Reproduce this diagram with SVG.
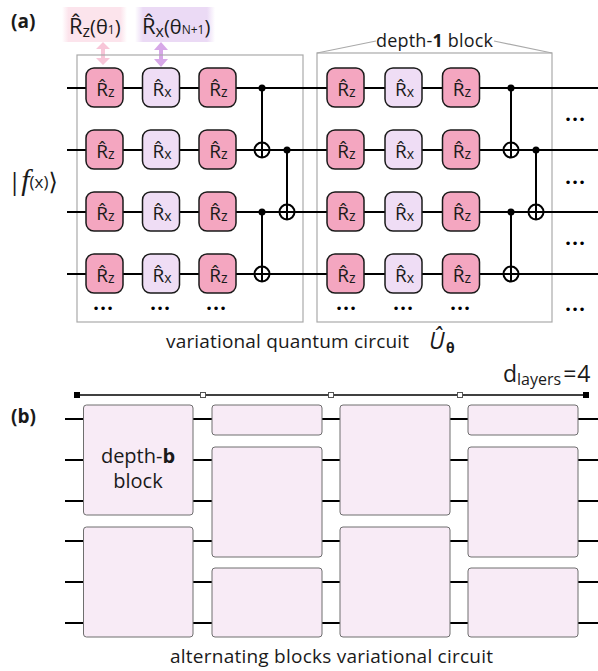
<svg xmlns="http://www.w3.org/2000/svg" width="598" height="671" viewBox="0 0 598 671">
<defs>
<style>
.t{font-family:"Open Sans","Noto Sans","DejaVu Sans",sans-serif;fill:#1a1a1a}
.wire{stroke:#000;stroke-width:2;fill:none}
.gz{fill:#F4A6C0;stroke:#1a1a1a;stroke-width:1.5}
.gx{fill:#EFDDF5;stroke:#1a1a1a;stroke-width:1.5}
.gt{font-family:"Open Sans","Noto Sans","DejaVu Sans",sans-serif;font-size:19px;fill:#1a1a1a;text-anchor:middle}
.sub{font-size:14px}
.box{fill:none;stroke:#aaaaaa;stroke-width:1.2}
.blk{fill:#F8EBF6;stroke:#6e6e6e;stroke-width:1}
.dots{font-family:"DejaVu Sans",sans-serif;font-size:12px;fill:#000;text-anchor:middle}
.ctl{fill:#000}
.tgt{fill:none;stroke:#000;stroke-width:2}
</style>
<linearGradient id="gpink" x1="0" y1="0" x2="1" y2="0">
<stop offset="0" stop-color="#FCE4EC" stop-opacity="0"/>
<stop offset="0.1" stop-color="#FCE4EC"/>
<stop offset="0.9" stop-color="#FCE4EC"/>
<stop offset="1" stop-color="#FCE4EC" stop-opacity="0"/>
</linearGradient>
<linearGradient id="gpurp" x1="0" y1="0" x2="1" y2="0">
<stop offset="0" stop-color="#EBDAF5" stop-opacity="0"/>
<stop offset="0.1" stop-color="#EBDAF5"/>
<stop offset="0.9" stop-color="#EBDAF5"/>
<stop offset="1" stop-color="#EBDAF5" stop-opacity="0"/>
</linearGradient>
</defs>
<rect width="598" height="671" fill="#fff"/>

<!-- panel labels -->
<text class="t" x="11" y="28" font-size="19" font-weight="bold">(a)</text>
<text class="t" x="11" y="423" font-size="19" font-weight="bold">(b)</text>

<!-- parameter labels -->
<g id="label-rz">
<rect x="62" y="7" width="65" height="35" fill="url(#gpink)"/>
<text class="t" x="69" y="34" font-size="22">R̂<tspan font-size="16" dy="3">z</tspan><tspan dy="-3" font-size="20">(θ</tspan><tspan font-size="12">1</tspan><tspan font-size="20">)</tspan></text>
</g>
<g id="label-rx">
<rect x="135" y="7" width="80" height="35" fill="url(#gpurp)"/>
<text class="t" x="142" y="34" font-size="22">R̂<tspan font-size="16" dy="3">x</tspan><tspan dy="-3" font-size="20">(θ</tspan><tspan font-size="12">N+1</tspan><tspan font-size="20">)</tspan></text>
</g>
<g id="arrow-rz">
<path d="M103,42 L110,49 L105,49 L105,58 L110,58 L103,65 L96,58 L101,58 L101,49 L96,49 Z" fill="#F8C6D8"/>
</g>
<g id="arrow-rx">
<path d="M161,42 L168,50 L163,50 L163,59 L168,59 L161,67 L154,59 L159,59 L159,50 L154,50 Z" fill="#D7A8E8"/>
</g>

<!-- block boxes -->
<g id="block1">
<rect class="box" x="77" y="55" width="226" height="267"/>
</g>
<g id="block2">
<rect class="box" x="317" y="53" width="235" height="269"/>
<polyline class="box" points="317,53 376,41"/>
<polyline class="box" points="494,41 552,53"/>
<text class="t" x="376" y="47" font-size="18" textLength="117">depth-<tspan font-weight="bold">1</tspan> block</text>
</g>

<!-- input label -->
<g id="input">
<text class="t" x="8" y="190" font-size="24">|<tspan font-family="Liberation Serif,serif" font-style="italic" font-size="30">f</tspan><tspan font-size="17" dy="-2">(x)</tspan><tspan dy="2">⟩</tspan></text>
</g>

<!-- connectors: wires and CNOTs -->
<g id="connectors">
<line class="wire" x1="67" y1="88" x2="598" y2="88"/>
<line class="wire" x1="67" y1="150" x2="598" y2="150"/>
<line class="wire" x1="67" y1="212" x2="598" y2="212"/>
<line class="wire" x1="67" y1="274" x2="598" y2="274"/>
<line class="wire" x1="262" y1="88" x2="262" y2="157.5"/>
<circle class="ctl" cx="262" cy="88" r="3.5"/>
<circle class="tgt" cx="262" cy="150" r="7.5"/>
<line class="wire" x1="287" y1="150" x2="287" y2="219.5"/>
<circle class="ctl" cx="287" cy="150" r="3.5"/>
<circle class="tgt" cx="287" cy="212" r="7.5"/>
<line class="wire" x1="262" y1="212" x2="262" y2="281.5"/>
<circle class="ctl" cx="262" cy="212" r="3.5"/>
<circle class="tgt" cx="262" cy="274" r="7.5"/>
<line class="wire" x1="511" y1="88" x2="511" y2="157.5"/>
<circle class="ctl" cx="511" cy="88" r="3.5"/>
<circle class="tgt" cx="511" cy="150" r="7.5"/>
<line class="wire" x1="536" y1="150" x2="536" y2="219.5"/>
<circle class="ctl" cx="536" cy="150" r="3.5"/>
<circle class="tgt" cx="536" cy="212" r="7.5"/>
<line class="wire" x1="511" y1="212" x2="511" y2="281.5"/>
<circle class="ctl" cx="511" cy="212" r="3.5"/>
<circle class="tgt" cx="511" cy="274" r="7.5"/>
</g>

<!-- gates block 1 -->
<g id="g1-r0-rz1"><rect class="gz" x="86" y="68" width="37" height="39" rx="8"/><text class="gt" x="105.5" y="96">R̂<tspan class="sub" dy="1">z</tspan></text></g>
<g id="g1-r0-rx"><rect class="gx" x="142.5" y="68" width="37" height="39" rx="8"/><text class="gt" x="162" y="96">R̂<tspan class="sub" dy="1">x</tspan></text></g>
<g id="g1-r0-rz2"><rect class="gz" x="199" y="68" width="37" height="39" rx="8"/><text class="gt" x="218.5" y="96">R̂<tspan class="sub" dy="1">z</tspan></text></g>
<g id="g1-r1-rz1"><rect class="gz" x="86" y="130" width="37" height="39" rx="8"/><text class="gt" x="105.5" y="158">R̂<tspan class="sub" dy="1">z</tspan></text></g>
<g id="g1-r1-rx"><rect class="gx" x="142.5" y="130" width="37" height="39" rx="8"/><text class="gt" x="162" y="158">R̂<tspan class="sub" dy="1">x</tspan></text></g>
<g id="g1-r1-rz2"><rect class="gz" x="199" y="130" width="37" height="39" rx="8"/><text class="gt" x="218.5" y="158">R̂<tspan class="sub" dy="1">z</tspan></text></g>
<g id="g1-r2-rz1"><rect class="gz" x="86" y="192" width="37" height="39" rx="8"/><text class="gt" x="105.5" y="220">R̂<tspan class="sub" dy="1">z</tspan></text></g>
<g id="g1-r2-rx"><rect class="gx" x="142.5" y="192" width="37" height="39" rx="8"/><text class="gt" x="162" y="220">R̂<tspan class="sub" dy="1">x</tspan></text></g>
<g id="g1-r2-rz2"><rect class="gz" x="199" y="192" width="37" height="39" rx="8"/><text class="gt" x="218.5" y="220">R̂<tspan class="sub" dy="1">z</tspan></text></g>
<g id="g1-r3-rz1"><rect class="gz" x="86" y="254" width="37" height="39" rx="8"/><text class="gt" x="105.5" y="282">R̂<tspan class="sub" dy="1">z</tspan></text></g>
<g id="g1-r3-rx"><rect class="gx" x="142.5" y="254" width="37" height="39" rx="8"/><text class="gt" x="162" y="282">R̂<tspan class="sub" dy="1">x</tspan></text></g>
<g id="g1-r3-rz2"><rect class="gz" x="199" y="254" width="37" height="39" rx="8"/><text class="gt" x="218.5" y="282">R̂<tspan class="sub" dy="1">z</tspan></text></g>

<!-- gates block 2 -->
<g id="g2-r0-rz1"><rect class="gz" x="327" y="68" width="37" height="39" rx="8"/><text class="gt" x="346.5" y="96">R̂<tspan class="sub" dy="1">z</tspan></text></g>
<g id="g2-r0-rx"><rect class="gx" x="385" y="68" width="37" height="39" rx="8"/><text class="gt" x="404.5" y="96">R̂<tspan class="sub" dy="1">x</tspan></text></g>
<g id="g2-r0-rz2"><rect class="gz" x="442.5" y="68" width="37" height="39" rx="8"/><text class="gt" x="462" y="96">R̂<tspan class="sub" dy="1">z</tspan></text></g>
<g id="g2-r1-rz1"><rect class="gz" x="327" y="130" width="37" height="39" rx="8"/><text class="gt" x="346.5" y="158">R̂<tspan class="sub" dy="1">z</tspan></text></g>
<g id="g2-r1-rx"><rect class="gx" x="385" y="130" width="37" height="39" rx="8"/><text class="gt" x="404.5" y="158">R̂<tspan class="sub" dy="1">x</tspan></text></g>
<g id="g2-r1-rz2"><rect class="gz" x="442.5" y="130" width="37" height="39" rx="8"/><text class="gt" x="462" y="158">R̂<tspan class="sub" dy="1">z</tspan></text></g>
<g id="g2-r2-rz1"><rect class="gz" x="327" y="192" width="37" height="39" rx="8"/><text class="gt" x="346.5" y="220">R̂<tspan class="sub" dy="1">z</tspan></text></g>
<g id="g2-r2-rx"><rect class="gx" x="385" y="192" width="37" height="39" rx="8"/><text class="gt" x="404.5" y="220">R̂<tspan class="sub" dy="1">x</tspan></text></g>
<g id="g2-r2-rz2"><rect class="gz" x="442.5" y="192" width="37" height="39" rx="8"/><text class="gt" x="462" y="220">R̂<tspan class="sub" dy="1">z</tspan></text></g>
<g id="g2-r3-rz1"><rect class="gz" x="327" y="254" width="37" height="39" rx="8"/><text class="gt" x="346.5" y="282">R̂<tspan class="sub" dy="1">z</tspan></text></g>
<g id="g2-r3-rx"><rect class="gx" x="385" y="254" width="37" height="39" rx="8"/><text class="gt" x="404.5" y="282">R̂<tspan class="sub" dy="1">x</tspan></text></g>
<g id="g2-r3-rz2"><rect class="gz" x="442.5" y="254" width="37" height="39" rx="8"/><text class="gt" x="462" y="282">R̂<tspan class="sub" dy="1">z</tspan></text></g>

<!-- ellipses -->
<g id="ellipses">
<text class="dots" x="103" y="313">•••</text>
<text class="dots" x="160" y="313">•••</text>
<text class="dots" x="216" y="313">•••</text>
<text class="dots" x="346" y="313">•••</text>
<text class="dots" x="403" y="313">•••</text>
<text class="dots" x="460" y="313">•••</text>
<text class="dots" x="575" y="124">•••</text>
<text class="dots" x="575" y="187">•••</text>
<text class="dots" x="575" y="248">•••</text>
<text class="dots" x="575" y="314">•••</text>
</g>

<!-- caption a -->
<g id="caption-a">
<text class="t" x="166" y="348" font-size="19" textLength="243">variational quantum circuit</text>
<text class="t" x="429" y="349" font-size="23" font-family="Liberation Serif,serif" font-style="italic">Û</text>
<text class="t" x="446" y="353" font-size="14" font-weight="bold" font-family="DejaVu Sans,sans-serif">θ</text>
</g>

<!-- part b: layer axis -->
<g id="layer-axis">
<line x1="77" y1="395" x2="586" y2="395" stroke="#000" stroke-width="1.3"/>
<rect x="74" y="392" width="6" height="6" fill="#000"/>
<rect x="583" y="392" width="6" height="6" fill="#000"/>
<rect x="200.5" y="392.5" width="5" height="5" fill="#fff" stroke="#555" stroke-width="1"/>
<rect x="328.5" y="392.5" width="5" height="5" fill="#fff" stroke="#555" stroke-width="1"/>
<rect x="457.5" y="392.5" width="5" height="5" fill="#fff" stroke="#555" stroke-width="1"/>
<text class="t" x="503" y="382" font-size="23">d<tspan font-size="16" dy="3">layers</tspan><tspan dy="-3" dx="2">=</tspan><tspan dx="1">4</tspan></text>
</g>

<!-- part b wires -->
<g id="connectors-b">
<g class="wire">
<line x1="65" y1="419" x2="83" y2="419"/><line x1="65" y1="460" x2="83" y2="460"/><line x1="65" y1="501" x2="83" y2="501"/><line x1="65" y1="541" x2="83" y2="541"/><line x1="65" y1="582" x2="83" y2="582"/><line x1="65" y1="623" x2="83" y2="623"/>
<line x1="193" y1="419" x2="212" y2="419"/><line x1="193" y1="460" x2="212" y2="460"/><line x1="193" y1="501" x2="212" y2="501"/><line x1="193" y1="541" x2="212" y2="541"/><line x1="193" y1="582" x2="212" y2="582"/><line x1="193" y1="623" x2="212" y2="623"/>
<line x1="322" y1="419" x2="340" y2="419"/><line x1="322" y1="460" x2="340" y2="460"/><line x1="322" y1="501" x2="340" y2="501"/><line x1="322" y1="541" x2="340" y2="541"/><line x1="322" y1="582" x2="340" y2="582"/><line x1="322" y1="623" x2="340" y2="623"/>
<line x1="450" y1="419" x2="468" y2="419"/><line x1="450" y1="460" x2="468" y2="460"/><line x1="450" y1="501" x2="468" y2="501"/><line x1="450" y1="541" x2="468" y2="541"/><line x1="450" y1="582" x2="468" y2="582"/><line x1="450" y1="623" x2="468" y2="623"/>
<line x1="578" y1="419" x2="598" y2="419"/><line x1="578" y1="460" x2="598" y2="460"/><line x1="578" y1="501" x2="598" y2="501"/><line x1="578" y1="541" x2="598" y2="541"/><line x1="578" y1="582" x2="598" y2="582"/><line x1="578" y1="623" x2="598" y2="623"/>
</g>
</g>

<!-- part b blocks -->
<g id="b-c1-top"><rect class="blk" x="83.5" y="405" width="109.5" height="110" rx="3"/>
<text class="t" x="138" y="463" font-size="20" text-anchor="middle">depth-<tspan font-weight="bold">b</tspan></text>
<text class="t" x="138" y="488" font-size="20" text-anchor="middle">block</text></g>
<g id="b-c1-bot"><rect class="blk" x="83.5" y="527" width="109.5" height="110" rx="3"/></g>
<g id="b-c2-top"><rect class="blk" x="212" y="405" width="110" height="30" rx="3"/></g>
<g id="b-c2-mid"><rect class="blk" x="212" y="447" width="110" height="110" rx="3"/></g>
<g id="b-c2-bot"><rect class="blk" x="212" y="568" width="110" height="69" rx="3"/></g>
<g id="b-c3-top"><rect class="blk" x="340" y="405" width="110" height="110" rx="3"/></g>
<g id="b-c3-bot"><rect class="blk" x="340" y="527" width="110" height="110" rx="3"/></g>
<g id="b-c4-top"><rect class="blk" x="468" y="405" width="110" height="30" rx="3"/></g>
<g id="b-c4-mid"><rect class="blk" x="468" y="447" width="110" height="110" rx="3"/></g>
<g id="b-c4-bot"><rect class="blk" x="468" y="568" width="110" height="69" rx="3"/></g>

<g id="caption-b">
<text class="t" x="170" y="663" font-size="19" textLength="323">alternating blocks variational circuit</text>
</g>
</svg>
